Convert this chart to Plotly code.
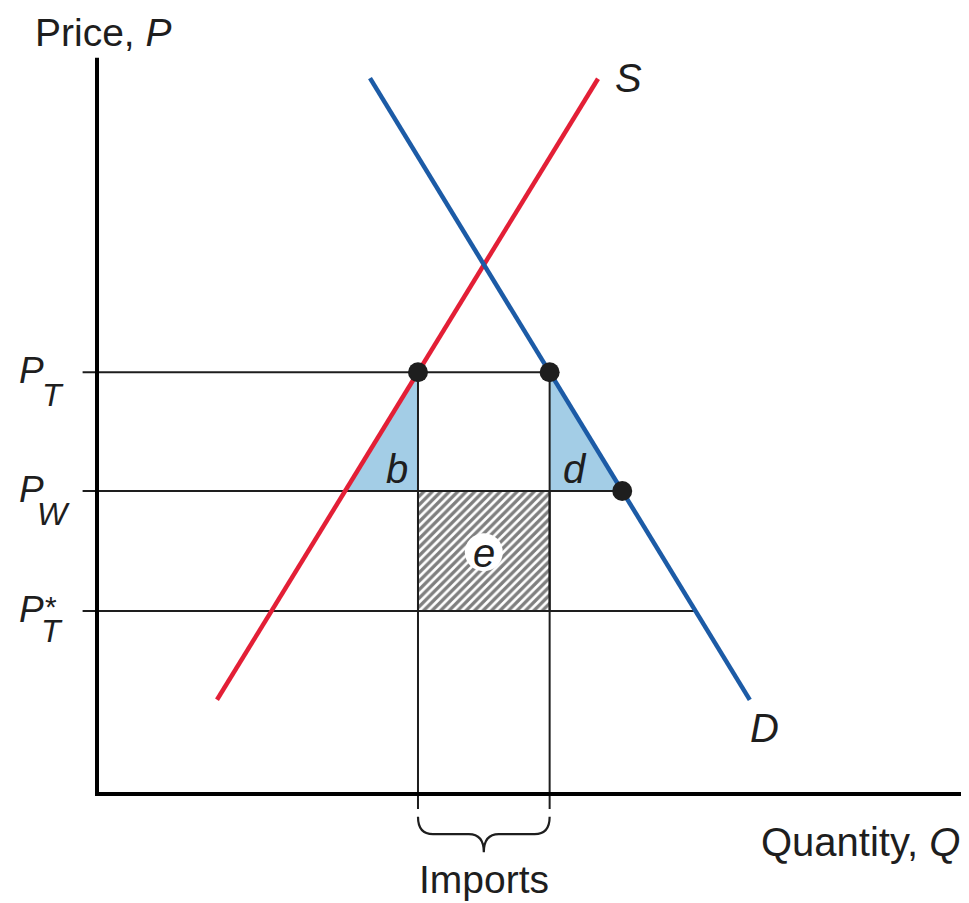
## tariff in a large country: supply, demand and the terms-of-trade gain

import numpy as np
import plotly.graph_objects as go

# supply and demand curves (end points)
supply_q = [2.0, 8.35]
supply_p = [1.57, 11.92]
demand_q = [4.55, 10.88]
demand_p = [11.93, 1.57]

# price levels: with tariff, world price, foreign price after tariff
price_levels = [7.03, 5.05, 3.05]
price_subs = ['T', 'W', 'T']
price_stars = ['', '', '*']

# axes extent
q_max = 14.42
p_max = 12.27


def qs(p):
    return float(np.interp(p, supply_p, supply_q))


def qd(p):
    return float(np.interp(p, demand_p[::-1], demand_q[::-1]))


p_t, p_w, p_ts = price_levels
q_start = qs(p_t)  # imports begin
q_end = qd(p_t)    # imports end

ink = '#1e1e1e'
red = '#e31f36'
blue = '#1c5ba6'
light_blue = '#a3cde6'
font = 'Liberation Sans, Arial, sans-serif'

fig = go.Figure()

# triangles b and d
fig.add_trace(go.Scatter(x=[qs(p_w), q_start, q_start, qs(p_w)], y=[p_w, p_t, p_w, p_w],
                         fill='toself', fillcolor=light_blue, line=dict(width=0), mode='lines'))
fig.add_trace(go.Scatter(x=[q_end, q_end, qd(p_w), q_end], y=[p_t, p_w, p_w, p_t],
                         fill='toself', fillcolor=light_blue, line=dict(width=0), mode='lines'))

# hatched rectangle e
fig.add_trace(go.Scatter(x=[q_start, q_end, q_end, q_start, q_start], y=[p_w, p_w, p_ts, p_ts, p_w],
                         fill='toself', fillcolor='white', mode='lines', line=dict(color=ink, width=2),
                         fillpattern=dict(shape='/', size=6, solidity=0.55, fgcolor='#000000', bgcolor='white')))

# white patch so the "e" label reads over the hatching
xm = (q_start + q_end) / 2
ym = (p_w + p_ts) / 2
fig.add_trace(go.Scatter(x=[xm], y=[ym - 0.02], mode='markers',
                         marker=dict(color='white', size=38, line=dict(width=0))))

# price lines (start a little left of the axis, like ticks)
for p in price_levels:
    fig.add_trace(go.Scatter(x=[-0.24, qd(p)], y=[p, p], mode='lines', line=dict(color=ink, width=2)))

# vertical lines at the import quantities, running below the axis
for q in [q_start, q_end]:
    fig.add_trace(go.Scatter(x=[q, q], y=[p_t, -0.25], mode='lines', line=dict(color=ink, width=2)))

# axes
fig.add_trace(go.Scatter(x=[0, 0, q_max], y=[p_max, 0, 0], mode='lines', line=dict(color='black', width=4)))

# supply and demand
fig.add_trace(go.Scatter(x=supply_q, y=supply_p, mode='lines', line=dict(color=red, width=4.5)))
fig.add_trace(go.Scatter(x=demand_q, y=demand_p, mode='lines', line=dict(color=blue, width=4.5)))

# dots
fig.add_trace(go.Scatter(x=[q_start, q_end, qd(p_w)], y=[p_t, p_t, p_w], mode='markers',
                         marker=dict(color=ink, size=20)))

# brace under imports
y0, yh, yt = -0.38, -0.67, -0.97
brace = (f'M {q_start},{y0} Q {q_start},{yh} {q_start + 0.25},{yh} L {xm - 0.25},{yh} '
         f'Q {xm},{yh} {xm},{yt} Q {xm},{yh} {xm + 0.25},{yh} L {q_end - 0.25},{yh} '
         f'Q {q_end},{yh} {q_end},{y0}')
fig.add_shape(type='path', path=brace, xref='x', yref='y', line=dict(color=ink, width=2.2))

big = dict(family=font, size=40, color=ink)
notes = [
    dict(x=-1.07, y=(794 - 9) / 60, text='Price, <i>P</i>', xanchor='left', yanchor='top',
         font=dict(family=font, size=39, color=ink)),
    dict(x=q_max, y=-0.8, text='Quantity, <i>Q</i>', xanchor='right'),
    dict(x=xm, y=-1.43, text='Imports', font=dict(family=font, size=39, color=ink)),
    dict(x=supply_q[1], y=supply_p[1], text='<i>S</i>', xshift=30, yshift=1),
    dict(x=demand_q[1], y=demand_p[1], text='<i>D</i>', xshift=15, yshift=-28),
    dict(x=q_start - 0.35, y=p_w + 0.37, text='<i>b</i>'),
    dict(x=q_end + 0.42, y=p_w + 0.37, text='<i>d</i>'),
    dict(x=xm, y=ym - 0.03, text='<i>e</i>'),
]
for p, sub, star in zip(price_levels, price_subs, price_stars):
    notes.append(dict(x=-1.1, y=p + 0.03, text='<i>P</i>', font=dict(family=font, size=37, color=ink)))
    if star:
        # star stacked over the subscript, tight line spacing from a small base size
        notes.append(dict(x=-0.75, y=p - 0.14,
                          text=(f'<span style="font-size:30px">{star}</span><br>'
                                f'<span style="font-size:32px"><i>{sub}</i></span>'),
                          font=dict(family=font, size=19, color=ink)))
    else:
        notes.append(dict(x=-0.73, y=p - 0.38, text=f'<i>{sub}</i>', font=dict(family=font, size=32, color=ink)))
for n in notes:
    n.setdefault('font', big)
    fig.add_annotation(xref='x', yref='y', showarrow=False, **n)

# the page body adds an 8px margin, so the figure starts 8px in
fig.update_layout(
    width=961, height=895,
    margin=dict(l=0, r=0, t=0, b=0, pad=0),
    plot_bgcolor='white', paper_bgcolor='white',
    showlegend=False,
    xaxis=dict(range=[-89 / 60, 872 / 60], visible=False, fixedrange=True),
    yaxis=dict(range=[-109 / 60, 786 / 60], visible=False, fixedrange=True))

fig.write_html('out.html')
